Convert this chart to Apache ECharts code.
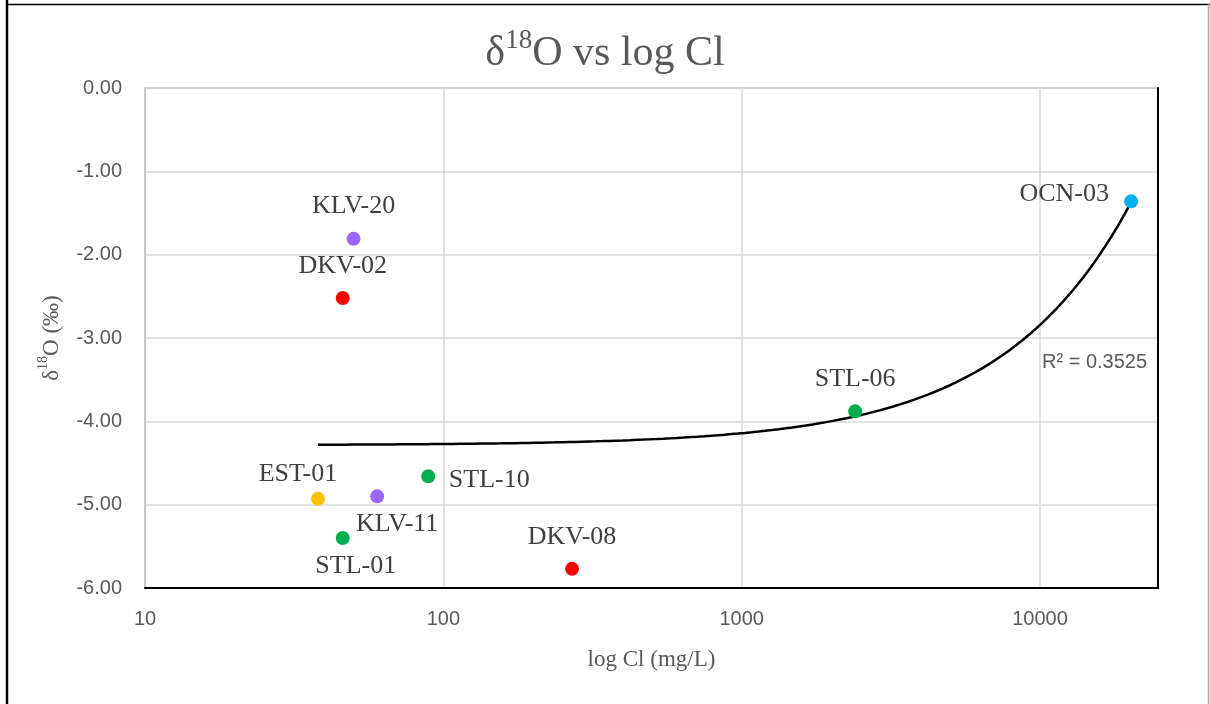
<!DOCTYPE html>
<html>
<head>
<meta charset="utf-8">
<script src="https://cdn.jsdelivr.net/npm/echarts@6/dist/echarts.min.js"></script>
<style>
html,body{margin:0;padding:0;background:#fff;}
#chart{width:1210px;height:704px;}
</style>
</head>
<body>
<div id="chart"></div>
<script>
// ---- data ----
const sampleNames = ['KLV-20','DKV-02','OCN-03','STL-06','STL-10','EST-01','KLV-11','STL-01','DKV-08'];
const chlorideMgL = [50, 46, 20200, 2400, 89, 38, 60, 46, 270];
const delta18O    = [-1.81, -2.52, -1.36, -3.88, -4.66, -4.93, -4.90, -5.40, -5.77];
const sampleGroup = ['KLV','DKV','OCN','STL','STL','EST','KLV','STL','DKV'];
const yTickValues = [0, -1, -2, -3, -4, -5, -6];
const xTickLabels = ['10','100','1000','10000'];
const rSquaredText = 'R² = 0.3525';

// ---- styles ----
const groupColors = {KLV:'#9966FF', DKV:'#FF0000', OCN:'#00B0F0', STL:'#00B050', EST:'#FFC000'};
const labelOffsets = {
  'KLV-20':[0,-33], 'DKV-02':[0,-32], 'OCN-03':[-67,-7], 'STL-06':[0,-32],
  'STL-10':[61,4], 'EST-01':[-20,-25], 'KLV-11':[20,28], 'STL-01':[13,28], 'DKV-08':[0,-32]
};

// linear trendline (least squares, y vs Cl)
const n = chlorideMgL.length;
const mx = chlorideMgL.reduce((a,b)=>a+b,0)/n;
const my = delta18O.reduce((a,b)=>a+b,0)/n;
let sxy=0, sxx=0;
for (let i=0;i<n;i++){ sxy+=(chlorideMgL[i]-mx)*(delta18O[i]-my); sxx+=(chlorideMgL[i]-mx)**2; }
const slope = sxy/sxx, intercept = my - slope*mx;
const xMin = Math.min(...chlorideMgL), xMax = Math.max(...chlorideMgL);
const trend = [];
const steps = 120;
for (let k=0;k<=steps;k++){
  const lx = Math.log10(xMin) + (Math.log10(xMax)-Math.log10(xMin))*k/steps;
  const x = Math.pow(10, lx);
  trend.push([x, intercept + slope*x]);
}

const points = sampleNames.map((nm,i)=>({
  name: nm,
  value: [chlorideMgL[i], delta18O[i]],
  itemStyle: {color: groupColors[sampleGroup[i]], opacity:1},
  label: {offset: labelOffsets[nm]}
}));

const serif = '"Liberation Serif","Times New Roman",serif';
const sans = '"Liberation Sans","Open Sans",Arial,sans-serif';

const chart = echarts.init(document.getElementById('chart'), null, {renderer:'canvas'});
chart.setOption({
  backgroundColor:'#ffffff',
  animation:false,
  title:{
    text:'{t|δ}{s|18}{t|O vs log Cl}',
    left:'center', top:22,
    textStyle:{
      fontWeight:'normal',
      rich:{
        t:{fontFamily:serif, fontSize:42, fontWeight:'normal', color:'#595959', verticalAlign:'bottom', lineHeight:48},
        s:{fontFamily:serif, fontSize:27, fontWeight:'normal', color:'#595959', verticalAlign:'top', lineHeight:48, padding:[0,0,17,0]}
      }
    }
  },
  grid:{left:145, right:52, top:88, bottom:116, containLabel:false},
  xAxis:{
    type:'log', logBase:10, min:10, max:24850,
    name:'log Cl (mg/L)', nameLocation:'middle', nameGap:60,
    nameTextStyle:{fontFamily:serif, fontSize:23, color:'#595959'},
    axisLine:{show:true, onZero:false, lineStyle:{color:'#000000', width:2}},
    axisTick:{show:false},
    axisLabel:{
      fontFamily:sans, fontSize:20, color:'#595959', margin:21,
      showMaxLabel:false,
      formatter:function(v){ const s = String(Math.round(v)); return xTickLabels.indexOf(s)>=0 ? s : ''; }
    },
    splitLine:{show:true, lineStyle:{color:'#d9d9d9', width:1.5}}
  },
  yAxis:[{
    type:'value', min:yTickValues[yTickValues.length-1], max:yTickValues[0], interval:1,
    name:'{t|δ}{s|18}{t|O (‰)}', nameLocation:'middle', nameGap:82, nameRotate:90,
    nameTextStyle:{
      rich:{
        t:{fontFamily:serif, fontSize:23, color:'#595959', verticalAlign:'bottom', lineHeight:27},
        s:{fontFamily:serif, fontSize:14, color:'#595959', verticalAlign:'top', lineHeight:27, padding:[0,0,10,0]}
      }
    },
    axisLine:{show:true, lineStyle:{color:'#bfbfbf', width:1.5}},
    axisTick:{show:false},
    axisLabel:{fontFamily:sans, fontSize:20, color:'#595959', margin:23, formatter:v=>v.toFixed(2)},
    splitLine:{show:true, lineStyle:{color:'#d9d9d9', width:1.5}}
  },{
    type:'value', min:-6, max:0, position:'right',
    axisLine:{show:true, onZero:false, lineStyle:{color:'#000000', width:2}},
    axisTick:{show:false}, axisLabel:{show:false}, splitLine:{show:false}
  }],
  graphic:[
    {type:'line', shape:{x1:7, y1:0, x2:7, y2:704}, style:{stroke:'#000', lineWidth:2.5}, silent:true},
    {type:'line', shape:{x1:6, y1:4.5, x2:1210, y2:4.5}, style:{stroke:'#000', lineWidth:1.5}, silent:true},
    {type:'line', shape:{x1:1208.5, y1:4, x2:1208.5, y2:704}, style:{stroke:'#a6a6a6', lineWidth:1.5}, silent:true},
    {type:'line', shape:{x1:145, y1:88, x2:1158, y2:88}, style:{stroke:'#bfbfbf', lineWidth:2}, silent:true},
    {type:'text', left:1042, top:352, style:{text:rSquaredText, font:'20px '+sans, fill:'#595959'}, silent:true}
  ],
  series:[
    {
      type:'line', data:trend, showSymbol:false, smooth:false,
      lineStyle:{color:'#000000', width:2.5}, z:3, silent:true
    },
    {
      type:'scatter', data:points, symbol:'circle', symbolSize:14, z:4,
      itemStyle:{opacity:1},
      label:{
        show:true, position:'inside', formatter:'{b}',
        fontFamily:serif, fontSize:26, color:'#404040'
      }
    }
  ]
});
</script>
</body>
</html>
